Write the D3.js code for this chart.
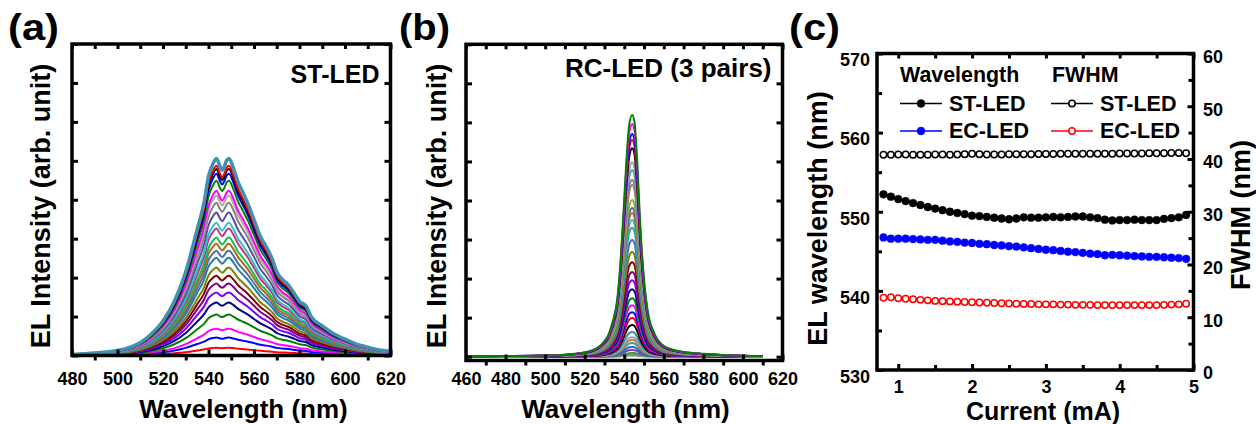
<!DOCTYPE html>
<html><head><meta charset="utf-8">
<script src="https://cdn.jsdelivr.net/npm/d3@7"></script>
<style>
body{margin:0;background:#fff;}
svg{display:block;}
</style></head><body>
<svg id="chart" width="1256" height="424"></svg>
<script>
// ---------- Panel (a): ST-LED spectra ----------
const aWavelength = [480,490,500,505,510,515,520,525,530,535,538,540,542,543.5,545,546,547,548,549,551,553,555,557,560,563,565,568,570,573,575,578,580,583,585,590,595,600,605,610,615,620];
const aShape      = [0.005,0.013,0.025,0.04,0.065,0.11,0.175,0.275,0.425,0.64,0.775,0.91,0.975,1.0,0.96,0.94,0.96,0.99,1.0,0.95,0.88,0.83,0.78,0.69,0.6,0.56,0.49,0.425,0.38,0.36,0.31,0.275,0.25,0.2,0.15,0.11,0.083,0.058,0.042,0.028,0.022];
const aPeaks      = [0.2,0.46,0.69,1.05,1.36,1.62,1.85,2.05,2.26,2.51,2.69,2.87,3.03,3.26,3.41,3.67,3.92,4.1,4.23,4.49,4.67,4.79,4.87,5.06];
const aColors     = ["#ff0000","#0000ff","#ff00ff","#008000","#000080","#8000ff","#800080","#800000","#808000","#2a7fa0","#4a6fb0","#b06a10","#10c050","#c0308a","#30c0c8","#5050a8","#8a8080","#b0b0a0","#ff00ff","#008000","#0000ff","#000000","#ff0000","#4191b0"];
const aXTicks = [480,500,520,540,560,580,600,620];
const aXMinor = [490,510,530,550,570,590,610];
const aYTicks = [0,1,2,3,4,5,6,7,8];

// ---------- Panel (b): RC-LED spectra ----------
const bWavelength = [460,480,500,510,515,520,524,527,530,532,534,536.5,538,539.5,541,542.5,544,545.2,546.6,548,549.5,551,552.5,554.5,556.5,558.5,560.5,565,570,580,590,600,610];
const bShape      = [0.002,0.003,0.005,0.008,0.012,0.018,0.027,0.04,0.065,0.09,0.14,0.24,0.38,0.58,0.8,0.96,1.0,0.97,0.8,0.56,0.37,0.24,0.16,0.11,0.075,0.055,0.042,0.028,0.02,0.012,0.007,0.004,0.003];
const bPeaks      = [0.03,0.06,0.095,0.17,0.25,0.35,0.43,0.5,0.63,0.81,0.99,1.14,1.32,1.5,1.73,1.96,2.17,2.42,2.68,2.99,3.3,3.5,3.68,3.81,4.01,4.4,4.53,4.78,4.98,5.34,5.55,5.7,5.96,6.19];
const bColors     = ["#808080","#a0a040","#20a060","#8040c0","#4060b0","#30a0b0","#c08040","#a0a0a0","#3090b0","#000000","#ff0000","#0000ff","#ff00ff","#008000","#000080","#8000ff","#800080","#800000","#808000","#4a6fb0","#2aa0b0","#30c0c0","#c07020","#5060a8","#90b030","#8c8c8c","#a07070","#40a0b0","#a0a0a0","#000000","#ff0000","#0000ff","#ff00ff","#008000"];
const bXTicks = [460,480,500,520,540,560,580,600,620];
const bXMinor = [470,490,510,530,550,570,590,610];
const bYTicks = [0,1,2,3,4,5,6,7,8];

// ---------- Panel (c): peak wavelength & FWHM vs current ----------
const current      = [0.8,0.9,1.0,1.1,1.2,1.3,1.4,1.5,1.6,1.7,1.8,1.9,2.0,2.1,2.2,2.3,2.4,2.5,2.6,2.7,2.8,2.9,3.0,3.1,3.2,3.3,3.4,3.5,3.6,3.7,3.8,3.9,4.0,4.1,4.2,4.3,4.4,4.5,4.6,4.7,4.8,4.9];
const stWavelength = [552.2,551.9,551.6,551.35,551.1,550.85,550.6,550.4,550.2,550.0,549.85,549.7,549.5,549.45,549.35,549.25,549.15,549.05,549.15,549.3,549.25,549.25,549.3,549.35,549.3,549.35,549.4,549.4,549.3,549.2,549.0,548.9,548.95,548.95,549.0,548.95,548.95,548.95,549.1,549.2,549.3,549.6];
const ecWavelength = [546.75,546.6,546.6,546.6,546.55,546.5,546.45,546.45,546.35,546.25,546.2,546.1,546.05,545.95,545.9,545.8,545.75,545.65,545.6,545.5,545.4,545.3,545.2,545.15,545.05,544.95,544.9,544.8,544.7,544.65,544.5,544.55,544.5,544.45,544.4,544.35,544.3,544.3,544.25,544.2,544.15,544.05];
const stFwhm       = [40.8,40.8,40.85,40.85,40.8,40.8,40.8,40.85,40.85,40.8,40.85,40.9,41.0,40.9,40.85,40.85,40.85,40.9,40.9,40.9,40.9,40.95,40.95,40.95,41.0,41.0,41.0,41.0,41.0,41.0,41.0,41.0,41.05,41.05,41.05,41.05,41.1,41.1,41.1,41.15,41.15,41.1];
const ecFwhm       = [13.7,13.8,13.6,13.5,13.4,13.3,13.2,13.1,13.05,13.0,12.95,12.9,12.85,12.8,12.75,12.7,12.65,12.6,12.55,12.5,12.5,12.45,12.45,12.45,12.4,12.4,12.35,12.35,12.35,12.3,12.3,12.3,12.3,12.3,12.3,12.3,12.3,12.3,12.35,12.4,12.45,12.55];
const cXTicks = [1,2,3,4,5];
const cXMinor = [1.5,2.5,3.5,4.5];
const cLeftTicks = [530,540,550,560,570];
const cLeftMinor = [535,545,555,565];
const cRightTicks = [0,10,20,30,40,50,60];
const cRightMinor = [5,15,25,35,45,55];

// ---------- drawing ----------
const FONT = "'Liberation Sans', Arial, Helvetica, sans-serif";
const svg = d3.select("#chart").attr("font-family", FONT).attr("font-weight", "bold");

function styleAxis(g, fs) {
  g.attr("font-family", FONT).attr("font-size", fs).attr("font-weight", "bold");
  g.select(".domain").remove();
  g.selectAll(".tick line").attr("stroke", "#000").attr("stroke-width", 3);
  g.selectAll(".tick text").attr("fill", "#000");
  return g;
}

function spectrumPanel(o) {
  const x = d3.scaleLinear(o.xDomain, [o.left, o.right]);
  const y = d3.scaleLinear(o.yDomain, [o.bottom, o.top]);
  const id = "clip-" + o.key;
  svg.append("clipPath").attr("id", id).append("rect")
    .attr("x", o.left).attr("y", o.top).attr("width", o.right - o.left).attr("height", o.bottom - o.top);
  const line = d3.line().x(d => x(d[0])).y(d => y(d[1])).curve(d3.curveMonotoneX);
  const g = svg.append("g").attr("clip-path", `url(#${id})`);
  o.peaks.forEach((p, i) => {
    const pts = o.wl.map((w, j) => [w, o.shape[j] * p]);
    const top = o.thickTop && i === o.peaks.length - 1;
    g.append("path").attr("d", line(pts)).attr("fill", "none")
      .attr("stroke", o.colors[i]).attr("stroke-width", top ? 3.5 : 2)
      .attr("stroke-linejoin", "round");
  });
  svg.append("rect").attr("x", o.left).attr("y", o.top)
    .attr("width", o.right - o.left).attr("height", o.bottom - o.top)
    .attr("fill", "none").attr("stroke", "#000").attr("stroke-width", 3.5);
  styleAxis(svg.append("g").attr("transform", `translate(0,${o.bottom})`)
    .call(d3.axisBottom(x).tickValues(o.xTicks).tickSizeInner(-6).tickSizeOuter(0).tickPadding(o.xPad)), 18);
  styleAxis(svg.append("g").attr("transform", `translate(0,${o.bottom})`)
    .call(d3.axisBottom(x).tickValues(o.xMinor).tickSizeInner(5).tickSizeOuter(0).tickFormat("")), 18);
  styleAxis(svg.append("g").attr("transform", `translate(0,${o.top})`)
    .call(d3.axisTop(x).tickValues(o.xTicks.concat(o.xMinor)).tickSizeInner(-5).tickSizeOuter(0).tickFormat("")), 18);
  styleAxis(svg.append("g").attr("transform", `translate(${o.left},0)`)
    .call(d3.axisLeft(y).tickValues(o.yTicks).tickSizeInner(-6).tickSizeOuter(0).tickFormat("")), 18);
  styleAxis(svg.append("g").attr("transform", `translate(${o.right},0)`)
    .call(d3.axisRight(y).tickValues(o.yTicks).tickSizeInner(-6).tickSizeOuter(0).tickFormat("")), 18);
  svg.append("text").attr("x", o.xTitleX).attr("y", 418).attr("text-anchor", "middle")
    .attr("font-size", 26).text("Wavelength (nm)");
  svg.append("text").attr("transform", `translate(${o.yTitleX},206) rotate(-90)`)
    .attr("text-anchor", "middle").attr("font-size", 27).text("EL Intensity (arb. unit)");
  svg.append("text").attr("x", o.right - 11).attr("y", o.labelY).attr("text-anchor", "end")
    .attr("font-size", o.labelSize).text(o.label);
}

spectrumPanel({
  key: "a", wl: aWavelength, shape: aShape, peaks: aPeaks, colors: aColors, thickTop: true,
  xDomain: [480, 620], yDomain: [0, 8], left: 72, right: 390.5, top: 44, bottom: 355.5,
  xTicks: aXTicks, xMinor: aXMinor, yTicks: aYTicks, xPad: 16.7,
  xTitleX: 243.5, yTitleX: 50, label: "ST-LED", labelY: 83, labelSize: 25
});
spectrumPanel({
  key: "b", wl: bWavelength, shape: bShape, peaks: bPeaks, colors: bColors, thickTop: false,
  xDomain: [460, 620], yDomain: [-0.097, 8], left: 466, right: 782.5, top: 44.3, bottom: 360.5,
  xTicks: bXTicks, xMinor: bXMinor, yTicks: bYTicks, xPad: 11.7,
  xTitleX: 625.5, yTitleX: 446, label: "RC-LED (3 pairs)", labelY: 77, labelSize: 26
});

// panel (c)
(function () {
  const L = 877, R = 1193.5, T = 53.5, B = 370;
  const x = d3.scaleLinear([0.712, 5], [L, R]);
  const yL = d3.scaleLinear([530, 570], [B, T]);
  const yR = d3.scaleLinear([0, 60], [B, T]);
  svg.append("clipPath").attr("id", "clip-c").append("rect")
    .attr("x", L).attr("y", T).attr("width", R - L).attr("height", B - T);
  const g = svg.append("g").attr("clip-path", "url(#clip-c)");
  const series = [
    { vals: stFwhm, y: yR, color: "#000000", open: true },
    { vals: ecFwhm, y: yR, color: "#ff0000", open: true },
    { vals: stWavelength, y: yL, color: "#000000", open: false },
    { vals: ecWavelength, y: yL, color: "#0000ff", open: false }
  ];
  series.forEach(s => {
    const pts = current.map((c, i) => [c, s.vals[i]]);
    g.append("path").attr("d", d3.line().x(d => x(d[0])).y(d => s.y(d[1]))(pts))
      .attr("fill", "none").attr("stroke", s.color).attr("stroke-width", 1.2);
    g.selectAll(null).data(pts).join("circle")
      .attr("cx", d => x(d[0])).attr("cy", d => s.y(d[1]))
      .attr("r", s.open ? 3.2 : 3.9)
      .attr("fill", s.open ? "#fff" : s.color)
      .attr("stroke", s.color).attr("stroke-width", s.open ? 1.5 : 0.5);
  });
  svg.append("rect").attr("x", L).attr("y", T).attr("width", R - L).attr("height", B - T)
    .attr("fill", "none").attr("stroke", "#000").attr("stroke-width", 3.5);

  styleAxis(svg.append("g").attr("transform", `translate(0,${B})`)
    .call(d3.axisBottom(x).tickValues(cXTicks).tickFormat(d3.format("d")).tickSizeInner(-6).tickSizeOuter(0).tickPadding(10)), 18);
  styleAxis(svg.append("g").attr("transform", `translate(0,${B})`)
    .call(d3.axisBottom(x).tickValues(cXMinor).tickSizeInner(-5).tickSizeOuter(0).tickFormat("")), 18);
  styleAxis(svg.append("g").attr("transform", `translate(0,${T})`)
    .call(d3.axisTop(x).tickValues(cXTicks.concat(cXMinor)).tickSizeInner(-5).tickSizeOuter(0).tickFormat("")), 18);
  const gl = styleAxis(svg.append("g").attr("transform", `translate(${L},0)`)
    .call(d3.axisLeft(yL).tickValues(cLeftTicks).tickFormat(d3.format("d")).tickSizeInner(-6).tickSizeOuter(0).tickPadding(7)), 18);
  gl.selectAll(".tick text").attr("transform", "translate(0,6.5)");
  styleAxis(svg.append("g").attr("transform", `translate(${L},0)`)
    .call(d3.axisLeft(yL).tickValues(cLeftMinor).tickSizeInner(-5).tickSizeOuter(0).tickFormat("")), 18);
  const gr = styleAxis(svg.append("g").attr("transform", `translate(${R},0)`)
    .call(d3.axisRight(yR).tickValues(cRightTicks).tickFormat(d3.format("d")).tickSizeInner(-6).tickSizeOuter(0).tickPadding(9.5)), 18);
  gr.selectAll(".tick text").attr("transform", "translate(0,3)");
  styleAxis(svg.append("g").attr("transform", `translate(${R},0)`)
    .call(d3.axisRight(yR).tickValues(cRightMinor).tickSizeInner(-5).tickSizeOuter(0).tickFormat("")), 18);

  svg.append("text").attr("x", 1043).attr("y", 419.5).attr("text-anchor", "middle")
    .attr("font-size", 25).text("Current (mA)");
  svg.append("text").attr("transform", "translate(827,218.5) rotate(-90)")
    .attr("text-anchor", "middle").attr("font-size", 27).text("EL wavelength (nm)");
  svg.append("text").attr("transform", "translate(1249.5,215) rotate(-90)")
    .attr("text-anchor", "middle").attr("font-size", 27).text("FWHM (nm)");

  svg.append("text").attr("x", 900).attr("y", 82).attr("font-size", 21.4).text("Wavelength");
  svg.append("text").attr("x", 1052).attr("y", 82).attr("font-size", 21.4).text("FWHM");
  const legend = [
    { x: 900, y: 103.5, color: "#000000", open: false, text: "ST-LED" },
    { x: 900, y: 131, color: "#0000ff", open: false, text: "EC-LED" },
    { x: 1051, y: 103.5, color: "#000000", open: true, text: "ST-LED" },
    { x: 1051, y: 131, color: "#ff0000", open: true, text: "EC-LED" }
  ];
  legend.forEach(d => {
    svg.append("line").attr("x1", d.x).attr("x2", d.x + 42).attr("y1", d.y).attr("y2", d.y)
      .attr("stroke", d.color).attr("stroke-width", 1.5);
    svg.append("circle").attr("cx", d.x + 21).attr("cy", d.y).attr("r", d.open ? 3.2 : 3.9)
      .attr("fill", d.open ? "#fff" : d.color).attr("stroke", d.color).attr("stroke-width", d.open ? 1.5 : 0.5);
    svg.append("text").attr("x", d.x + 49).attr("y", d.y + 7.2).attr("font-size", 21.5).text(d.text);
  });
})();

// panel letters
[["(a)", 8], ["(b)", 399], ["(c)", 789]].forEach(([t, px]) => {
  svg.append("text").attr("x", px).attr("y", 40).attr("font-size", 37)
    .attr("textLength", 51).attr("lengthAdjust", "spacingAndGlyphs").text(t);
});
</script>
</body></html>
